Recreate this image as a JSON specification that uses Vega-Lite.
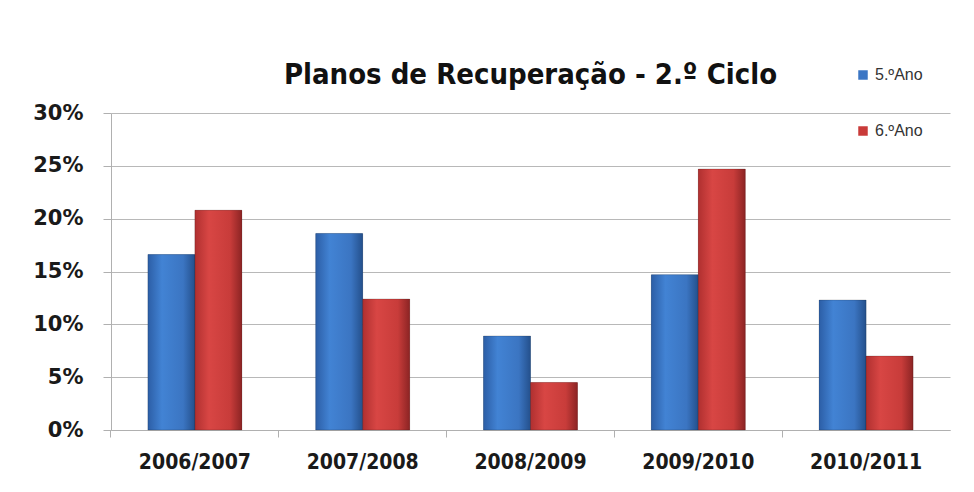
{
  "$schema": "https://vega.github.io/schema/vega-lite/v6.json",
  "width": 839,
  "height": 317,
  "autosize": {"type": "none"},
  "padding": {"left": 111, "top": 113, "right": 24, "bottom": 62},
  "background": "white",
  "title": {
    "text": "Planos de Recuperação - 2.º Ciclo",
    "anchor": "middle",
    "frame": "group",
    "font": "DejaVu Sans Condensed",
    "fontSize": 29,
    "fontWeight": "bold",
    "color": "#111111",
    "offset": 25,
    "dy": 48
  },
  "data": {
    "values": [
      {"ano": "2006/2007", "serie": "5.ºAno", "valor": 0.166},
      {"ano": "2006/2007", "serie": "6.ºAno", "valor": 0.208},
      {"ano": "2007/2008", "serie": "5.ºAno", "valor": 0.186},
      {"ano": "2007/2008", "serie": "6.ºAno", "valor": 0.124},
      {"ano": "2008/2009", "serie": "5.ºAno", "valor": 0.089},
      {"ano": "2008/2009", "serie": "6.ºAno", "valor": 0.045},
      {"ano": "2009/2010", "serie": "5.ºAno", "valor": 0.147},
      {"ano": "2009/2010", "serie": "6.ºAno", "valor": 0.247},
      {"ano": "2010/2011", "serie": "5.ºAno", "valor": 0.123},
      {"ano": "2010/2011", "serie": "6.ºAno", "valor": 0.070}
    ]
  },
  "encoding": {
    "x": {
      "field": "ano",
      "type": "nominal",
      "scale": {"paddingInner": 0.44, "paddingOuter": 0.22},
      "axis": {
        "title": null,
        "labelAngle": 0,
        "bandPosition": -0.394,
        "labelFont": "DejaVu Sans Condensed",
        "labelFontSize": 21,
        "labelFontWeight": "bold",
        "labelColor": "#1a1a1a",
        "labelPadding": 14,
        "tickSize": 7,
        "tickColor": "#b0b0b0",
        "domainColor": "#b0b0b0",
        "grid": false
      }
    },
    "xOffset": {"field": "serie", "type": "nominal"},
    "y": {
      "field": "valor",
      "type": "quantitative",
      "scale": {"domain": [0, 0.3]},
      "axis": {
        "title": null,
        "format": ".0%",
        "values": [0, 0.05, 0.1, 0.15, 0.2, 0.25, 0.3],
        "labelFont": "DejaVu Sans",
        "labelFontSize": 21,
        "labelFontWeight": "bold",
        "labelColor": "#1a1a1a",
        "labelPadding": 20,
        "tickSize": 8,
        "tickColor": "#b0b0b0",
        "domainColor": "#b0b0b0",
        "gridColor": "#b8b8b8",
        "gridWidth": 1.2
      }
    }
  },
  "layer": [
    {
      "mark": {"type": "bar"},
      "encoding": {
        "color": {
          "field": "serie",
          "type": "nominal",
          "scale": {"range": ["#3b76c4", "#c93b39"]},
          "legend": {
            "title": null,
            "orient": "none",
            "legendX": 744,
            "legendY": -46,
            "symbolType": "square",
            "symbolSize": 90,
            "symbolStrokeWidth": 0,
            "labelFont": "Liberation Sans",
            "labelFontSize": 16,
            "labelColor": "#333333",
            "rowPadding": 40
          }
        }
      }
    },
    {
      "mark": {"type": "bar", "stroke": "#000000", "strokeOpacity": 0.18, "strokeWidth": 1},
      "encoding": {
        "color": {
          "condition": {
            "test": "datum.serie === '5.ºAno'",
            "value": {
              "gradient": "linear", "x1": 0, "y1": 0, "x2": 1, "y2": 0,
              "stops": [
                {"offset": 0, "color": "#2c5ea6"},
                {"offset": 0.3, "color": "#4283d4"},
                {"offset": 0.75, "color": "#3b75c2"},
                {"offset": 1, "color": "#24508c"}
              ]
            }
          },
          "value": {
            "gradient": "linear", "x1": 0, "y1": 0, "x2": 1, "y2": 0,
            "stops": [
              {"offset": 0, "color": "#b03030"},
              {"offset": 0.3, "color": "#d84644"},
              {"offset": 0.75, "color": "#c83c3a"},
              {"offset": 1, "color": "#8c2424"}
            ]
          }
        }
      }
    }
  ],
  "config": {"view": {"stroke": null}}
}
